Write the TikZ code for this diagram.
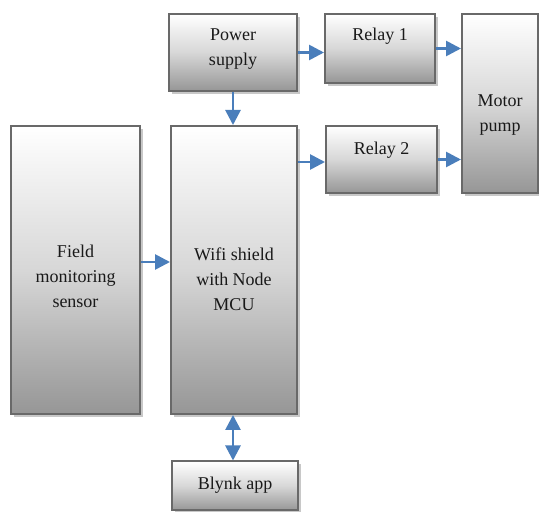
\documentclass[tikz,border=0pt]{standalone}
\usepackage{fontspec}
\setmainfont{Liberation Serif}
\newfontfamily\boxfont{Liberation Serif}
\usetikzlibrary{arrows.meta,shadows,calc}
\definecolor{boxborder}{RGB}{105,105,105}
\definecolor{boxbottom}{RGB}{150,150,150}
\definecolor{boxmid}{RGB}{215,215,215}
\definecolor{shadowgray}{RGB}{200,200,200}
\definecolor{arrowblue}{RGB}{74,126,187}
\tikzset{
  blockbox/.style={rectangle, draw=boxborder, line width=2pt, inner sep=0pt,
    top color=white, bottom color=boxbottom, middle color=boxmid,
    drop shadow={shadow xshift=3pt, shadow yshift=-3pt, fill=shadowgray, opacity=1}},
  btxt/.style={font=\boxfont\fontsize{18}{25}\selectfont, text=black!90, align=center, inner sep=0pt},
  flow/.style={draw=arrowblue, line width=2.7pt, -{Triangle[length=15pt,width=15pt]}},
  flowboth/.style={draw=arrowblue, line width=2.7pt, {Triangle[length=15pt,width=15pt]}-{Triangle[length=15pt,width=15pt]}}
}
\begin{document}
\begin{tikzpicture}[x=1pt,y=1pt]
\useasboundingbox (0,0) rectangle (539,512);
% boxes
\node[blockbox, minimum width=128pt, minimum height=77pt] (ps) at (233,459.5) {};
\node[blockbox, minimum width=110pt, minimum height=69pt] (r1) at (380,463.5) {};
\node[blockbox, minimum width=76pt, minimum height=179pt] (mp) at (500,408.5) {};
\node[blockbox, minimum width=111pt, minimum height=67pt] (r2) at (381.5,352.5) {};
\node[blockbox, minimum width=129pt, minimum height=288pt] (fs) at (75.5,242) {};
\node[blockbox, minimum width=126pt, minimum height=288pt] (wf) at (234,242) {};
\node[blockbox, minimum width=126pt, minimum height=49pt] (bl) at (235,26) {};
% texts
\node[btxt] (tps) at ($(ps)+(0,3.5)$) {Power\\supply};
\node[btxt] (tr1) at ($(r1)+(0,12.5)$) {Relay 1};
\node[btxt] (tmp) at ($(mp)+(0,-12)$) {Motor\\pump};
\node[btxt] (tr2) at ($(r2)+(0,9.5)$) {Relay 2};
\node[btxt] (tfs) at ($(fs)+(0,-6.5)$) {Field\\monitoring\\sensor};
\node[btxt] (twf) at ($(wf)+(0,-9)$) {Wifi shield\\with Node\\MCU};
\node[btxt] (tbl) at ($(bl)+(0,1)$) {Blynk app};
% connectors
\draw[flow] (ps.east) -- (ps.east -| r1.west);
\draw[flow] (ps.south) -- (ps.south |- wf.north);
\draw[flow] (r1.east) -- (r1.east -| mp.west);
\coordinate (wfout) at ($(r2.west -| wf.east)+(0,-2.5)$);
\draw[flow] (wfout) -- (wfout -| r2.west);
\draw[flow] (r2.east) -- (r2.east -| mp.west);
\coordinate (fsout) at ($(fs.east)+(0,8)$);
\draw[flow] (fsout) -- (fsout -| wf.west);
\coordinate (wfbot) at ($(wf.south)+(-1,0)$);
\draw[flowboth] (wfbot) -- (wfbot |- bl.north);
\end{tikzpicture}
\end{document}
